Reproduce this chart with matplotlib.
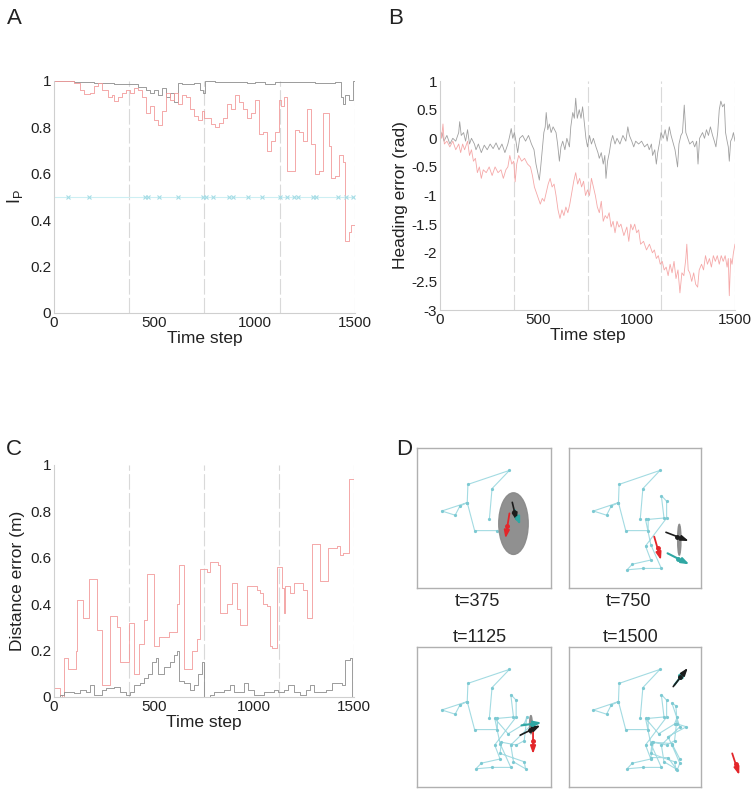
import matplotlib
matplotlib.use("Agg")
import matplotlib.pyplot as plt
from matplotlib.patches import Ellipse

plt.rcParams['font.family'] = ['Liberation Sans', 'DejaVu Sans']

# ---------------- Panel A data ----------------
a_gray_t = [0, 100, 200, 300, 420, 460, 480, 500, 520, 540, 560, 580, 600, 620, 640, 700, 730, 745,
            752, 800, 900, 960, 1000, 1050, 1100, 1200, 1300, 1400, 1430, 1440, 1450, 1470, 1490, 1500]
a_gray_v = [1.0, 0.995, 0.99, 0.985, 0.975, 0.96, 0.95, 0.96, 0.94, 0.97, 0.93, 0.95, 0.91, 0.99, 0.985,
            0.99, 0.96, 0.95, 1.0, 0.995, 0.995, 0.99, 0.995, 0.985, 0.995, 0.995, 0.99, 0.995, 0.93,
            0.90, 0.94, 0.92, 1.0, 1.0]
a_red_t = [0, 100, 130, 150, 180, 200, 220, 240, 270, 290, 300, 320, 340, 360, 380, 400, 420, 440,
           460, 480, 500, 520, 540, 560, 580, 600, 620, 640, 660, 680, 700, 720, 740, 750, 780, 800,
           820, 840, 860, 880, 900, 920, 940, 960, 980, 1000, 1020, 1040, 1060, 1080, 1100, 1120,
           1130, 1145, 1160, 1200, 1220, 1240, 1260, 1280, 1300, 1320, 1340, 1370, 1380, 1400, 1420,
           1440, 1450, 1470, 1480, 1500]
a_red_v = [1.0, 0.99, 0.96, 0.945, 0.95, 0.98, 0.99, 0.96, 0.93, 0.94, 0.915, 0.93, 0.95, 0.96, 0.95,
           0.97, 0.96, 0.93, 0.86, 0.89, 0.83, 0.81, 0.87, 0.95, 0.92, 0.95, 0.90, 0.94, 0.93, 0.88,
           0.85, 0.83, 0.87, 0.84, 0.815, 0.80, 0.82, 0.84, 0.90, 0.88, 0.94, 0.91, 0.88, 0.84, 0.86,
           0.92, 0.77, 0.78, 0.70, 0.74, 0.78, 0.92, 0.89, 0.93, 0.61, 0.79, 0.78, 0.74, 0.88, 0.73,
           0.60, 0.61, 0.86, 0.72, 0.58, 0.59, 0.68, 0.65, 0.31, 0.35, 0.38, 0.38]
a_event_t = [70, 175, 455, 470, 525, 620, 745, 760, 790, 870, 890, 965, 1035, 1125, 1160, 1195,
             1215, 1290, 1305, 1415, 1455, 1490]
a_event_level = 0.5

# ---------------- Panel B data ----------------
b_gray_t = [0, 10, 20, 35, 50, 65, 80, 95, 100, 108, 120, 130, 140, 150, 160, 175, 183, 195, 210,
            225, 240, 255, 270, 285, 300, 315, 330, 345, 355, 362, 370, 378, 386, 395, 405, 420, 435,
            450, 465, 478, 488, 497, 505, 512, 520, 528, 535, 540, 548, 556, 565, 575, 590, 598, 607,
            615, 624, 635, 645, 658, 665, 675, 683, 690, 698, 708, 717, 725, 733, 742, 750, 760, 770,
            780, 793, 803, 810, 820, 830, 838, 844, 852, 861, 870, 878, 890, 900, 915, 930, 945, 955,
            963, 975, 985, 995, 1010, 1025, 1040, 1055, 1064, 1075, 1081, 1092, 1100, 1107, 1115,
            1124, 1135, 1145, 1155, 1166, 1175, 1183, 1195, 1208, 1215, 1225, 1233, 1242, 1250, 1260,
            1270, 1285, 1295, 1305, 1312, 1320, 1335, 1345, 1355, 1365, 1375, 1386, 1395, 1403, 1412,
            1420, 1428, 1437, 1446, 1452, 1460, 1466, 1471, 1478, 1485, 1492, 1500]
b_gray_v = [0.0, 0.1, -0.05, 0.05, -0.1, 0.0, -0.05, 0.1, 0.29, 0.05, 0.1, -0.05, 0.15, -0.1, 0.0,
            -0.1, -0.2, -0.1, -0.25, -0.12, -0.2, -0.1, -0.18, -0.08, -0.2, -0.1, -0.25, -0.1, 0.05,
            0.17, 0.0, 0.1, -0.05, -0.25, 0.0, 0.05, -0.05, 0.05, -0.1, -0.2, -0.45, -0.6, -0.73,
            -0.5, -0.2, 0.1, 0.2, 0.45, 0.15, 0.25, 0.1, 0.2, 0.1, -0.1, -0.4, -0.15, -0.05, -0.2, 0.0,
            -0.15, 0.2, 0.45, 0.35, 0.7, 0.35, 0.5, 0.35, 0.55, 0.3, 0.0, -0.15, 0.05, -0.1, 0.0,
            -0.15, -0.25, -0.35, -0.25, -0.45, -0.3, -0.7, -0.4, -0.25, -0.05, 0.05, -0.1, 0.0, -0.1,
            0.05, -0.05, 0.2, 0.05, -0.05, -0.15, -0.05, -0.1, -0.05, -0.15, -0.1, -0.2, -0.1, -0.3,
            -0.2, -0.45, -0.25, -0.1, 0.1, 0.0, 0.15, -0.05, 0.2, 0.05, -0.05, -0.2, -0.5, -0.1, 0.05,
            0.1, 0.58, 0.1, 0.0, -0.1, -0.05, -0.15, -0.05, -0.45, 0.0, 0.1, 0.0, 0.15, 0.05, 0.2,
            0.05, -0.05, -0.15, 0.1, 0.5, 0.65, 0.55, 0.6, 0.1, -0.05, -0.15, -0.4, -0.05, 0.0, 0.1,
            -0.05]
b_red_t = [0, 8, 15, 22, 35, 50, 65, 80, 95, 105, 115, 125, 140, 150, 160, 170, 180, 190, 200, 210,
           220, 235, 250, 265, 280, 295, 310, 322, 335, 345, 355, 365, 375, 382, 390, 400, 415, 430,
           445, 460, 470, 480, 490, 500, 510, 520, 530, 540, 550, 560, 570, 580, 590, 600, 610, 620,
           630, 640, 650, 660, 670, 680, 690, 700, 710, 720, 730, 740, 750, 760, 770, 780, 790, 800,
           810, 820, 830, 840, 850, 860, 870, 880, 890, 900, 910, 920, 935, 950, 960, 970, 980, 990,
           1000, 1010, 1020, 1035, 1050, 1065, 1080, 1090, 1100, 1110, 1120, 1130, 1140, 1150, 1160,
           1170, 1180, 1190, 1200, 1210, 1220, 1230, 1240, 1250, 1255, 1262, 1270, 1280, 1290, 1300,
           1310, 1318, 1330, 1340, 1350, 1360, 1370, 1380, 1390, 1400, 1410, 1420, 1430, 1440, 1450,
           1460, 1466, 1471, 1478, 1485, 1492, 1500]
b_red_v = [0.2, 0.0, 0.25, -0.1, -0.05, -0.15, -0.05, -0.2, -0.1, -0.25, -0.1, -0.2, -0.05, -0.3,
           -0.2, -0.4, -0.35, -0.6, -0.5, -0.7, -0.55, -0.6, -0.5, -0.65, -0.5, -0.6, -0.55, -0.7,
           -0.55, -0.5, -0.3, -0.45, -0.4, -0.76, -0.45, -0.3, -0.4, -0.35, -0.45, -0.5, -0.65,
           -0.85, -0.95, -1.05, -1.15, -1.05, -1.1, -0.95, -0.8, -0.7, -0.85, -0.8, -1.0, -1.25,
           -1.4, -1.25, -1.35, -1.2, -1.3, -1.15, -0.95, -0.75, -0.6, -0.8, -0.7, -0.85, -0.75, -1.0,
           -0.9, -1.0, -0.7, -0.85, -1.0, -1.2, -1.3, -1.1, -1.45, -1.35, -1.4, -1.3, -1.55, -1.45,
           -1.65, -1.45, -1.55, -1.5, -1.7, -1.55, -1.8, -1.5, -1.6, -1.5, -1.65, -1.6, -1.85, -1.8,
           -1.95, -1.85, -2.0, -1.95, -2.1, -2.05, -2.2, -2.15, -2.3, -2.25, -2.4, -2.2, -2.35, -2.15,
           -2.45, -2.3, -2.7, -2.35, -2.4, -2.1, -1.85, -2.3, -2.35, -2.5, -2.35, -2.55, -2.6, -2.3,
           -2.2, -2.3, -2.05, -2.2, -2.1, -2.25, -2.05, -2.15, -2.05, -2.2, -2.05, -2.15, -2.05,
           -2.25, -2.1, -2.75, -2.1, -2.2, -2.0, -1.85]

# ---------------- Panel C data ----------------
c_red_t = [0, 32, 40, 48, 70, 110, 115, 145, 173, 215, 240, 280, 315, 331, 373, 398, 423, 448, 465,
           501, 523, 573, 614, 623, 648, 690, 714, 731, 764, 781, 822, 831, 864, 889, 914, 931, 964,
           1014, 1031, 1047, 1064, 1080, 1089, 1114, 1139, 1148, 1156, 1181, 1198, 1247, 1264, 1289,
           1331, 1372, 1414, 1431, 1447, 1477, 1500]
c_red_v = [0.04, 0.01, 0.0, 0.17, 0.12, 0.2, 0.42, 0.34, 0.51, 0.29, 0.05, 0.35, 0.30, 0.15, 0.32,
           0.10, 0.23, 0.33, 0.53, 0.22, 0.26, 0.28, 0.4, 0.57, 0.12, 0.2, 0.25, 0.55, 0.54, 0.58,
           0.57, 0.36, 0.4, 0.49, 0.38, 0.31, 0.48, 0.46, 0.45, 0.40, 0.39, 0.22, 0.21, 0.56, 0.47,
           0.36, 0.48, 0.45, 0.49, 0.46, 0.34, 0.66, 0.5, 0.64, 0.65, 0.61, 0.62, 0.94, 0.95]
c_gray_t = [0, 30, 50, 100, 130, 160, 180, 200, 240, 260, 300, 330, 360, 380, 400, 430, 450, 470,
            490, 510, 520, 550, 580, 600, 615, 625, 650, 680, 700, 720, 740, 752, 780, 800, 850, 880,
            900, 950, 970, 1000, 1050, 1100, 1120, 1150, 1170, 1200, 1230, 1260, 1280, 1300, 1340,
            1360, 1390, 1410, 1440, 1455, 1480, 1490, 1500]
c_gray_v = [0.0, 0.01, 0.02, 0.015, 0.03, 0.02, 0.05, 0.01, 0.03, 0.04, 0.045, 0.02, 0.01, 0.02,
            0.05, 0.06, 0.08, 0.10, 0.15, 0.17, 0.10, 0.13, 0.15, 0.18, 0.2, 0.07, 0.06, 0.03, 0.05,
            0.10, 0.15, 0.0, 0.01, 0.02, 0.03, 0.05, 0.02, 0.06, 0.03, 0.01, 0.02, 0.03, 0.02, 0.03,
            0.05, 0.02, 0.01, 0.03, 0.05, 0.02, 0.02, 0.03, 0.06, 0.06, 0.05, 0.16, 0.17, 0.0, 0.0]

snapshot_t = [375, 750, 1125, 1500]

# ---------------- Panel D data (box-normalised coordinates) ----------------
path_x = [0.54, 0.56, 0.69, 0.38, 0.375, 0.185, 0.285, 0.32, 0.375, 0.43, 0.60,
          0.60, 0.72, 0.70, 0.74, 0.74, 0.58, 0.62, 0.48, 0.44, 0.56, 0.70, 0.62, 0.58,
          0.68, 0.80, 0.82, 0.80, 0.74, 0.63, 0.62, 0.80, 0.81, 0.72, 0.70, 0.84,
          0.78, 0.81, 0.82, 0.89, 0.75, 0.78, 0.84, 0.82, 0.75, 0.62, 0.64, 0.78, 0.84]
path_y = [0.49, 0.71, 0.84, 0.74, 0.61, 0.55, 0.52, 0.585, 0.61, 0.41, 0.41,
          0.49, 0.50, 0.66, 0.62, 0.50, 0.30, 0.20, 0.17, 0.13, 0.14, 0.14, 0.31, 0.49,
          0.38, 0.45, 0.50, 0.33, 0.30, 0.32, 0.24, 0.18, 0.13, 0.18, 0.30, 0.43,
          0.60, 0.58, 0.45, 0.43, 0.36, 0.30, 0.17, 0.12, 0.21, 0.21, 0.32, 0.31, 0.20]
path_end = [11, 24, 36, 49]   # number of path nodes shown at each snapshot

# arrows per snapshot: (x0, y0, x1, y1)
arrow_black = [(0.711, 0.612, 0.744, 0.479), (0.735, 0.398, 0.907, 0.336),
               (0.77, 0.37, 0.92, 0.44), (0.79, 0.717, 0.90, 0.85)]
arrow_cyan = [(0.73, 0.557, 0.77, 0.45), (0.747, 0.248, 0.912, 0.169),
              (0.78, 0.44, 0.93, 0.46), (0.80, 0.73, 0.89, 0.84)]
arrow_red = [(0.69, 0.533, 0.66, 0.355), (0.646, 0.367, 0.697, 0.2),
             (0.866, 0.415, 0.866, 0.236), (1.237, 0.24, 1.29, 0.086)]
# particle cloud: (cx, cy, width, height)
cloud = [(0.72, 0.46, 0.22, 0.44), (0.836, 0.345, 0.025, 0.22),
         (0.85, 0.445, 0.02, 0.13), (0.84, 0.78, 0.015, 0.02)]
snap_labels = ["t=375", "t=750", "t=1125", "t=1500"]

# ---------------- styling ----------------
GRAY = '#8c8c8c'
RED = '#f29a9a'
VLINE = '#d9d9d9'
SPINE = '#cfcfcf'
TXT = '#222222'

fig = plt.figure(figsize=(7.55, 7.97), dpi=100)


def style_axes(ax, yticks, ylabels, ylim):
    ax.set_xlim(0, 1500)
    ax.set_ylim(*ylim)
    ax.set_xticks([0, 500, 1000, 1500])
    ax.set_xticklabels(['0', '500', '1000', '1500'])
    ax.set_yticks(yticks)
    ax.set_yticklabels(ylabels)
    for s in ['top', 'right']:
        ax.spines[s].set_visible(False)
    for s in ['left', 'bottom']:
        ax.spines[s].set_color(SPINE)
        ax.spines[s].set_linewidth(0.8)
    ax.tick_params(length=0, labelsize=11, colors=TXT, pad=2)
    ax.set_xlabel('Time step', fontsize=12.5, color=TXT, labelpad=1)
    for t in snapshot_t:
        ax.axvline(t, color=VLINE, lw=0.8, ls=(0, (14, 3)), zorder=0)


# Panel A
axA = fig.add_axes([0.0715, 0.6073, 0.3987, 0.2911])
axA.plot(a_gray_t, a_gray_v, drawstyle='steps-post', color=GRAY, lw=0.6)
axA.plot(a_red_t, a_red_v, drawstyle='steps-post', color=RED, lw=0.6)
axA.axhline(a_event_level, color='#cdeff3', lw=0.8, zorder=1)
axA.plot(a_event_t, [a_event_level] * len(a_event_t), ls='none', marker='x', ms=3,
         mew=0.8, color='#a6dde6')
style_axes(axA, [0, 0.2, 0.4, 0.6, 0.8, 1.0], ['0', '0.2', '0.4', '0.6', '0.8', '1'], (0, 1))
axA.set_ylabel(r'$\mathregular{I_P}$', fontsize=13, color=TXT, labelpad=4)

# Panel B
axB = fig.add_axes([0.5828, 0.611, 0.3907, 0.2873])
axB.plot(b_gray_t, b_gray_v, color='#a0a0a0', lw=0.6)
axB.plot(b_red_t, b_red_v, color='#f5a8a8', lw=0.6)
byt = [-3, -2.5, -2, -1.5, -1, -0.5, 0, 0.5, 1]
style_axes(axB, byt, ['-3', '-2.5', '-2', '-1.5', '-1', '-0.5', '0', '0.5', '1'], (-3, 1))
axB.set_ylabel('Heading error (rad)', fontsize=12.5, color=TXT, labelpad=2)

# Panel C
axC = fig.add_axes([0.0715, 0.1255, 0.3974, 0.2911])
axC.plot(c_red_t, c_red_v, drawstyle='steps-post', color=RED, lw=0.6)
axC.plot(c_gray_t, c_gray_v, drawstyle='steps-post', color=GRAY, lw=0.6)
style_axes(axC, [0, 0.2, 0.4, 0.6, 0.8, 1.0], ['0', '0.2', '0.4', '0.6', '0.8', '1'], (0, 1))
axC.set_ylabel('Distance error (m)', fontsize=12.5, color=TXT, labelpad=4)

# Panel D
box_pos = [[0.5523, 0.2622, 0.1775, 0.1757], [0.7536, 0.2622, 0.1748, 0.1757],
           [0.5523, 0.01255, 0.1775, 0.1757], [0.7536, 0.01255, 0.1748, 0.1757]]
label_pos = [(477, 601), (628, 601), (480, 637), (631, 637)]
for i in range(4):
    ax = fig.add_axes(box_pos[i])
    ax.set_xlim(0, 1)
    ax.set_ylim(0, 1)
    ax.set_xticks([])
    ax.set_yticks([])
    for s in ax.spines.values():
        s.set_color('#b0b0b0')
        s.set_linewidth(1.0)
    n = path_end[i]
    ax.plot(path_x[:n], path_y[:n], color='#a3dbe2', lw=0.8, marker='o', ms=1.3,
            mfc='#7cc9d2', mec='#7cc9d2', zorder=2)
    cx, cy, w, h = cloud[i]
    ax.add_patch(Ellipse((cx, cy), w, h, color='#8a8a8a', alpha=0.95, zorder=3))
    for arr, col, lw in [(arrow_red[i], '#e3262a', 1.3), (arrow_cyan[i], '#2fa7a3', 1.5),
                         (arrow_black[i], '#1c1c1c', 1.2)]:
        x0, y0, x1, y1 = arr
        ax.annotate('', xy=(x1, y1), xytext=(x0, y0), annotation_clip=False,
                    arrowprops=dict(arrowstyle='-|>,head_length=0.45,head_width=0.16',
                                    color=col, lw=lw, shrinkA=0, shrinkB=0), zorder=4)
        ax.plot([(x0 + x1) / 2], [(y0 + y1) / 2], marker='o', ms=2.5, color=col,
                clip_on=False, zorder=5)
    lx, ly = label_pos[i]
    fig.text(lx / 755, 1 - ly / 797, snap_labels[i], ha='center', va='center',
             fontsize=13, color=TXT)

# panel letters
for letter, (x, y) in zip('ABCD', [(14, 18), (396, 18), (14, 449), (404, 449)]):
    fig.text(x / 755, 1 - y / 797, letter, ha='center', va='center', fontsize=16, color=TXT)

fig.savefig('out.png', dpi=100)
